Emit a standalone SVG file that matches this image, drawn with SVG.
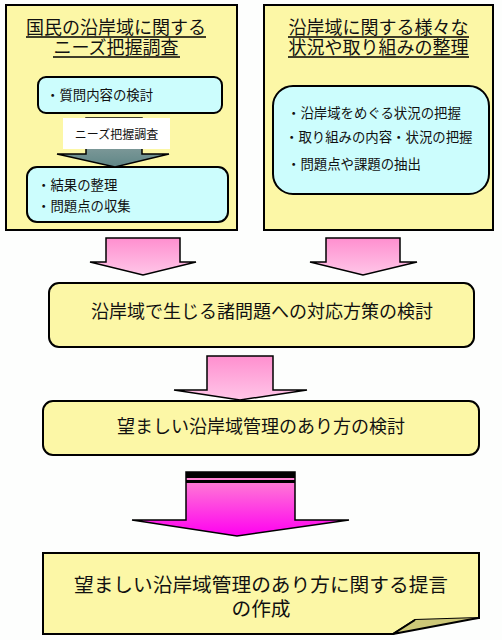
<svg xmlns="http://www.w3.org/2000/svg" width="502" height="640" viewBox="0 0 502 640">
<defs>
<linearGradient id="gPink" x1="0" y1="0" x2="0" y2="1"><stop offset="0" stop-color="#ff8fcf"/><stop offset="1" stop-color="#ffc6e8"/></linearGradient>
<linearGradient id="gMag" x1="0" y1="0" x2="0" y2="1"><stop offset="0" stop-color="#ff90d0"/><stop offset="1" stop-color="#ff00f0"/></linearGradient>
<linearGradient id="gGray" x1="0" y1="0" x2="0" y2="1"><stop offset="0" stop-color="#a9b4b4"/><stop offset="1" stop-color="#5f8686"/></linearGradient>
<style>
.panel{fill:#fcf7a6;stroke:#000;stroke-width:2}
.inner{fill:#ccfdfd;stroke:#000;stroke-width:2}
.box{fill:#fcf7a6;stroke:#000;stroke-width:2}
.arr{stroke:#000;stroke-width:1.5;stroke-linejoin:miter}
text{font-family:"Noto Sans CJK JP","Noto Sans CJK SC",sans-serif;fill:#111}
.title{font-size:18px;text-anchor:middle}
.item{font-size:13.4px}
.big{font-size:18px;text-anchor:middle}
.ul{stroke:#000;stroke-width:1.5}
</style>
</defs>
<rect width="502" height="640" fill="#fdfefd"/>
<g id="panel-left">
<rect class="panel" x="6" y="5" width="231" height="225"/>
<text class="title" x="116" y="34">国民の沿岸域に関する</text>
<line class="ul" x1="26" y1="37" x2="206" y2="37"/>
<text class="title" x="116" y="54">ニーズ把握調査</text>
<line class="ul" x1="53" y1="57" x2="180" y2="57"/>
</g>
<g id="node-question">
<rect class="inner" x="38" y="77" width="184" height="36" rx="8"/>
<text class="item" x="46" y="100">・質問内容の検討</text>
</g>
<g id="node-result">
<rect class="inner" x="27" y="167" width="201" height="55" rx="10"/>
<text class="item" x="37" y="190">・結果の整理</text>
<text class="item" x="37" y="211">・問題点の収集</text>
</g>
<g id="panel-right">
<rect class="panel" x="264" y="5" width="229" height="225"/>
<text class="title" x="378.5" y="34">沿岸域に関する様々な</text>
<line class="ul" x1="288" y1="37" x2="469" y2="37"/>
<text class="title" x="378.5" y="54">状況や取り組みの整理</text>
<line class="ul" x1="288" y1="57" x2="469" y2="57"/>
</g>
<g id="node-situation">
<rect class="inner" x="273" y="86" width="216" height="108" rx="20"/>
<text class="item" x="287" y="118">・沿岸域をめぐる状況の把握</text>
<text class="item" x="285" y="142">・取り組みの内容・状況の把握</text>
<text class="item" x="287" y="169">・問題点や課題の抽出</text>
</g>
<g id="node-measures">
<rect class="box" x="49" y="283" width="425" height="64" rx="10"/>
<text class="big" x="262" y="318">沿岸域で生じる諸問題への対応方策の検討</text>
</g>
<g id="node-management">
<rect class="box" x="43" y="401" width="436" height="54" rx="10"/>
<text class="big" x="261" y="433">望ましい沿岸域管理のあり方の検討</text>
</g>
<g id="node-proposal">
<path class="box" d="M43,553 H479 V618 L415,620 L393,634 H43 Z"/>
<path d="M393,634 L415,620 L478,618 Z" fill="#cdc878"/>
<path d="M415,620 L393,634 L478,618" fill="none" stroke="#000" stroke-width="2"/>
<text style="font-size:19.7px;text-anchor:middle" x="261" y="592">望ましい沿岸域管理のあり方に関する提言</text>
<text style="font-size:19.7px;text-anchor:middle" x="261" y="616">の作成</text>
</g>
<g id="connectors">
<path class="arr" fill="url(#gGray)" d="M86,118 H142 V154 H169 L115,167 L57,154 H86 Z"/>
<rect x="63" y="118" width="107" height="31" fill="#ffffff"/>
<text x="116.5" y="139" style="font-size:12px;text-anchor:middle">ニーズ把握調査</text>
<path class="arr" fill="url(#gPink)" d="M106,238 H180 V262 H196 L143,275 L90,262 H106 Z"/>
<path class="arr" fill="url(#gPink)" d="M326,238 H400 V262 H417 L363,275 L310,262 H326 Z"/>
<path class="arr" fill="url(#gPink)" d="M207,356 H273 V390 H307 L240,400 L174,390 H207 Z"/>
<path class="arr" fill="url(#gMag)" d="M186,472 H295 V520 H349 L237,536 L132,520 H186 Z"/>
<rect x="186" y="472" width="109" height="6" fill="#000"/>
<rect x="186" y="480" width="109" height="3" fill="#000"/>
</g>
</svg>
